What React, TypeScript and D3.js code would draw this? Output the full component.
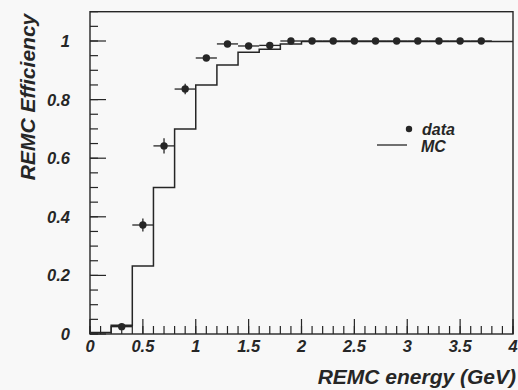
import React from 'react';
import * as d3 from 'd3';

// MC histogram: bin edges and bin contents
const mcEdges = [0, 0.2, 0.4, 0.6, 0.8, 1.0, 1.2, 1.4, 1.6, 1.8, 2.0, 2.2, 2.4, 2.6, 2.8, 3.0, 3.2, 3.4, 3.6, 3.8, 4.0];
const mcValues = [0.005, 0.03, 0.232, 0.5, 0.7, 0.85, 0.918, 0.962, 0.972, 0.99, 0.998, 0.998, 0.998, 0.998, 0.998, 0.998, 0.998, 0.998, 0.998, 0.998];

// data points
const dataX = [0.3, 0.5, 0.7, 0.9, 1.1, 1.3, 1.5, 1.7, 1.9, 2.1, 2.3, 2.5, 2.7, 2.9, 3.1, 3.3, 3.5, 3.7];
const dataY = [0.025, 0.372, 0.642, 0.836, 0.942, 0.99, 0.983, 0.985, 1.0, 1.0, 1.0, 1.0, 1.0, 1.0, 1.0, 1.0, 1.0, 1.0];
const dataYErr = [0.008, 0.022, 0.026, 0.018, 0.01, 0.005, 0.005, 0.004, 0.003, 0.003, 0.003, 0.003, 0.003, 0.003, 0.003, 0.003, 0.003, 0.003];
const dataXErr = 0.1;

const xTickValues = [0, 0.5, 1, 1.5, 2, 2.5, 3, 3.5, 4];
const xTickLabels = ['0', '0.5', '1', '1.5', '2', '2.5', '3', '3.5', '4'];
const yTickValues = [0, 0.2, 0.4, 0.6, 0.8, 1];
const yTickLabels = ['0', '0.2', '0.4', '0.6', '0.8', '1'];

const xTitle = 'REMC energy (GeV)';
const yTitle = 'REMC Efficiency';
const legendData = 'data';
const legendMC = 'MC';

const W = 518;
const H = 390;
const FONT = '"Liberation Sans", Arial, Helvetica, sans-serif';
const INK = '#262626';

export default function App() {
  const x = d3.scaleLinear().domain([0, 4]).range([90, 513]);
  const y = d3.scaleLinear().domain([0, 1.1]).range([334, 11.7]);

  const stepPts: [number, number][] = mcValues.map((v, i) => [mcEdges[i], v]);
  stepPts.push([mcEdges[mcEdges.length - 1], mcValues[mcValues.length - 1]]);
  const stepLine = d3
    .line<[number, number]>()
    .x((d) => x(d[0]))
    .y((d) => y(d[1]))
    .curve(d3.curveStepAfter);

  const xMinor = x.ticks(40);
  const yMinor = y.ticks(22);

  const [x0, x1] = x.range();
  const [y0, y1] = y.range();

  return (
    <svg
      width={W}
      height={H}
      style={{ position: 'absolute', left: 0, top: 0, background: '#f8f8f8' }}
      fontFamily={FONT}
    >
      <rect x={0} y={0} width={W} height={H} fill="#f8f8f8" />
      {/* frame */}
      <rect x={x0} y={y1} width={x1 - x0} height={y0 - y1} fill="none" stroke={INK} strokeWidth={1.4} />

      {/* x ticks */}
      {xMinor.map((t, i) => (
        <line key={'xm' + i} x1={x(t)} x2={x(t)} y1={y0} y2={y0 - 8} stroke={INK} strokeWidth={1.2} />
      ))}
      {xTickValues.map((t, i) => (
        <line key={'xM' + i} x1={x(t)} x2={x(t)} y1={y0} y2={y0 - 15} stroke={INK} strokeWidth={1.2} />
      ))}
      {xTickValues.map((t, i) => (
        <text
          key={'xl' + i}
          x={x(t)}
          y={352}
          textAnchor="middle"
          fontSize={16.5}
          fontWeight="bold"
          fontStyle="italic"
          fill={INK}
        >
          {xTickLabels[i]}
        </text>
      ))}

      {/* y ticks */}
      {yMinor.map((t, i) => (
        <line key={'ym' + i} x1={x0} x2={x0 + 8} y1={y(t)} y2={y(t)} stroke={INK} strokeWidth={1.2} />
      ))}
      {yTickValues.map((t, i) => (
        <line key={'yM' + i} x1={x0} x2={x0 + 16} y1={y(t)} y2={y(t)} stroke={INK} strokeWidth={1.2} />
      ))}
      {yTickValues.map((t, i) => (
        <text
          key={'yl' + i}
          x={70}
          y={y(t) + 6}
          textAnchor="end"
          fontSize={16.5}
          fontWeight="bold"
          fontStyle="italic"
          fill={INK}
        >
          {yTickLabels[i]}
        </text>
      ))}

      {/* MC histogram */}
      <path d={stepLine(stepPts) || ''} fill="none" stroke={INK} strokeWidth={1.5} />

      {/* data points */}
      {dataX.map((dx, i) => (
        <g key={'d' + i}>
          <line x1={x(dx - dataXErr)} x2={x(dx + dataXErr)} y1={y(dataY[i])} y2={y(dataY[i])} stroke={INK} strokeWidth={1.3} />
          <line
            x1={x(dx)}
            x2={x(dx)}
            y1={y(dataY[i] - dataYErr[i])}
            y2={y(dataY[i] + dataYErr[i])}
            stroke={INK}
            strokeWidth={1.3}
          />
          <circle cx={x(dx)} cy={y(dataY[i])} r={3.7} fill={INK} />
        </g>
      ))}

      {/* legend */}
      <circle cx={409} cy={129} r={3.2} fill={INK} />
      <text x={422} y={135} fontSize={16} fontWeight="bold" fontStyle="italic" fill={INK}>
        {legendData}
      </text>
      <line x1={377} x2={407} y1={145} y2={145} stroke={INK} strokeWidth={1.3} />
      <text x={421} y={152} fontSize={16} fontWeight="bold" fontStyle="italic" fill={INK}>
        {legendMC}
      </text>

      {/* axis titles */}
      <text
        x={516}
        y={384}
        textAnchor="end"
        fontSize={21}
        fontWeight="bold"
        fontStyle="italic"
        fill={INK}
      >
        {xTitle}
      </text>
      <text
        transform="translate(35,97) rotate(-90)"
        textAnchor="middle"
        fontSize={21}
        fontWeight="bold"
        fontStyle="italic"
        fill={INK}
      >
        {yTitle}
      </text>
    </svg>
  );
}
